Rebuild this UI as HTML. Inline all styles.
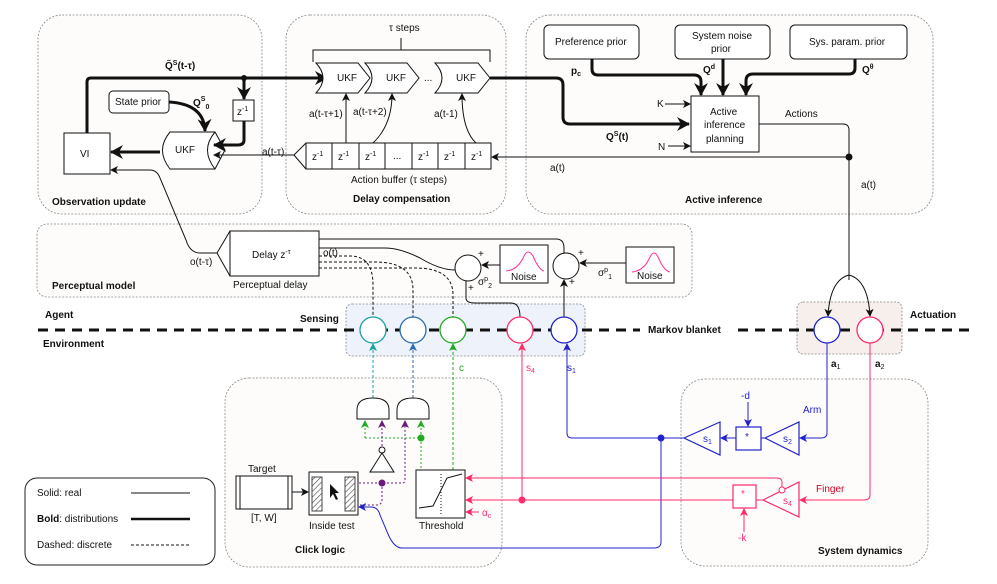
<!DOCTYPE html>
<html><head><meta charset="utf-8"><style>
html,body{margin:0;padding:0;background:#fff;}
svg{display:block;font-family:"Liberation Sans",sans-serif;}
text{font-size:10px;fill:#111;}
.b{font-weight:bold;}
</style></head><body>
<svg width="997" height="584" viewBox="0 0 997 584" xmlns="http://www.w3.org/2000/svg">
<defs>
<pattern id="h" width="4" height="4" patternUnits="userSpaceOnUse" patternTransform="rotate(45)"><rect width="4" height="4" fill="#fff"/><line x1="0" y1="0" x2="0" y2="4" stroke="#444" stroke-width="1.2"/></pattern>
<marker id="a" markerWidth="8" markerHeight="8" refX="7" refY="4" orient="auto" markerUnits="userSpaceOnUse"><path d="M0,0 L8,4 L0,8 L2,4z" fill="#111"/></marker>
<marker id="ab" markerWidth="14" markerHeight="14" refX="12" refY="7" orient="auto" markerUnits="userSpaceOnUse"><path d="M0,0 L13,7 L0,14 L4,7z" fill="#111"/></marker>
<marker id="abl" markerWidth="8" markerHeight="8" refX="7" refY="4" orient="auto" markerUnits="userSpaceOnUse"><path d="M0,0 L8,4 L0,8 L2,4z" fill="#2222cc"/></marker>
<marker id="apk" markerWidth="8" markerHeight="8" refX="7" refY="4" orient="auto" markerUnits="userSpaceOnUse"><path d="M0,0 L8,4 L0,8 L2,4z" fill="#ff2a6a"/></marker>
<marker id="agr" markerWidth="8" markerHeight="8" refX="7" refY="4" orient="auto" markerUnits="userSpaceOnUse"><path d="M0,0 L8,4 L0,8 L2,4z" fill="#22aa22"/></marker>
<marker id="ate" markerWidth="8" markerHeight="8" refX="7" refY="4" orient="auto" markerUnits="userSpaceOnUse"><path d="M0,0 L8,4 L0,8 L2,4z" fill="#1ba0a0"/></marker>
<marker id="abu" markerWidth="8" markerHeight="8" refX="7" refY="4" orient="auto" markerUnits="userSpaceOnUse"><path d="M0,0 L8,4 L0,8 L2,4z" fill="#2b6cb0"/></marker>
<marker id="apu" markerWidth="8" markerHeight="8" refX="7" refY="4" orient="auto" markerUnits="userSpaceOnUse"><path d="M0,0 L8,4 L0,8 L2,4z" fill="#6a1a7a"/></marker>
</defs>
<g fill="#fdfcfb" stroke="#888" stroke-dasharray="2,1.5" stroke-width="0.8">
<rect x="38" y="15" width="224" height="199" rx="24"/>
<rect x="286" y="15" width="220" height="199" rx="24"/>
<rect x="526" y="15" width="407" height="199" rx="24"/>
<rect x="37" y="224" width="655" height="73" rx="10"/>
<rect x="346" y="304" width="239" height="52" rx="6" fill="#eef3fb"/>
<rect x="797" y="302" width="105" height="52" rx="6" fill="#f7efeb"/>
<rect x="225" y="378" width="277" height="189" rx="24"/>
<rect x="681" y="379" width="247" height="187" rx="24"/>
</g>
<text x="52" y="205" class="b">Observation update</text>
<text x="353" y="202" class="b">Delay compensation</text>
<text x="685" y="203" class="b">Active inference</text>
<text x="52" y="289" class="b">Perceptual model</text>
<text x="295" y="553" class="b">Click logic</text>
<text x="818" y="554" class="b">System dynamics</text>
<text x="45" y="318" class="b">Agent</text>
<text x="43" y="347" class="b">Environment</text>
<text x="300" y="322" class="b">Sensing</text>
<text x="648" y="333" class="b">Markov blanket</text>
<text x="910" y="318" class="b">Actuation</text>
<line x1="38" y1="330" x2="640" y2="330" stroke="#111" stroke-width="3" stroke-dasharray="10,7"/>
<line x1="738" y1="330" x2="975" y2="330" stroke="#111" stroke-width="3" stroke-dasharray="10,7"/>
<!-- legend -->
<rect x="25" y="478" width="190" height="87" rx="12" fill="#fff" stroke="#222"/>
<text x="37" y="496">Solid: real</text><line x1="131" y1="493" x2="190" y2="493" stroke="#111"/>
<text x="37" y="522"><tspan class="b">Bold</tspan>: distributions</text><line x1="131" y1="519" x2="190" y2="519" stroke="#111" stroke-width="2.5"/>
<text x="37" y="548">Dashed: discrete</text><line x1="131" y1="545" x2="190" y2="545" stroke="#111" stroke-dasharray="3,2"/>
<!-- observation update -->
<rect x="64" y="133" width="46" height="41" fill="#fff" stroke="#111"/><text x="80" y="157">VI</text>
<rect x="109" y="91" width="60" height="22" rx="4" fill="#fff" stroke="#111"/><text x="115" y="105">State prior</text>
<path d="M170,132 L215,132 L225,150 L215,169 L170,169 Q155,150 170,132 Z" fill="#fff" stroke="#111"/>
<path d="M215,132 Q200,150 215,169" fill="none" stroke="#111"/>
<text x="175" y="153">UKF</text>
<rect x="233" y="100" width="21" height="21" fill="#fff" stroke="#111"/><text x="237" y="115">z<tspan dy="-4" font-size="7">-1</tspan></text>
<path d="M87,133 V82 Q87,78 91,78 H327" fill="none" stroke="#111" stroke-width="3" marker-end="url(#ab)"/>
<circle cx="244" cy="78" r="3" fill="#111"/>
<path d="M244,78 V99" stroke="#111" stroke-width="3" marker-end="url(#ab)"/>
<path d="M244,121 V140 Q244,145 238,145 H214" fill="none" stroke="#111" stroke-width="3" marker-end="url(#ab)"/>
<path d="M169,102 Q204,104 205,131" fill="none" stroke="#111" stroke-width="3" marker-end="url(#ab)"/>
<path d="M160,152 H111" stroke="#111" stroke-width="3" marker-end="url(#ab)"/>
<text x="165" y="69" class="b">Q̃<tspan dy="-4" font-size="7">S</tspan><tspan dy="4">(t-τ)</tspan></text>
<text x="193" y="106" class="b">Q<tspan dy="-5" font-size="7">S</tspan><tspan dy="8" font-size="7">0</tspan></text>
<!-- delay compensation -->
<path d="M313,62 V50 H490 V62" fill="none" stroke="#111"/><line x1="401" y1="38" x2="401" y2="50" stroke="#111"/>
<text x="389" y="31">τ steps</text>
<g fill="#fff" stroke="#111">
<path d="M316,63 H358 L370,78 L358,93 H316 Q330,78 316,63Z"/>
<path d="M365,63 H407 L419,78 L407,93 H365 Q379,78 365,63Z"/>
<path d="M435,63 H478 L490,78 L478,93 H435 Q449,78 435,63Z"/>
</g>
<text x="337" y="81">UKF</text><text x="386" y="81">UKF</text><text x="456" y="81">UKF</text><text x="424" y="81" fill="#666">...</text>
<path d="M306,143 L294,155 L306,169" fill="#fff" stroke="#111"/>
<rect x="306" y="143" width="185" height="26" fill="#fff" stroke="#111"/>
<g stroke="#111"><line x1="332" y1="143" x2="332" y2="169"/><line x1="359" y1="143" x2="359" y2="169"/><line x1="385" y1="143" x2="385" y2="169"/><line x1="412" y1="143" x2="412" y2="169"/><line x1="438" y1="143" x2="438" y2="169"/><line x1="465" y1="143" x2="465" y2="169"/></g>
<text x="312" y="160">z<tspan dy="-4" font-size="7">-1</tspan></text><text x="338" y="160">z<tspan dy="-4" font-size="7">-1</tspan></text><text x="365" y="160">z<tspan dy="-4" font-size="7">-1</tspan></text><text x="393" y="159">...</text><text x="418" y="160">z<tspan dy="-4" font-size="7">-1</tspan></text><text x="444" y="160">z<tspan dy="-4" font-size="7">-1</tspan></text><text x="471" y="160">z<tspan dy="-4" font-size="7">-1</tspan></text>
<text x="351" y="183">Action buffer (τ steps)</text>
<path d="M346,143 V94" stroke="#111" marker-end="url(#a)"/>
<path d="M373,143 Q392,125 392,94" fill="none" stroke="#111" marker-end="url(#a)"/>
<path d="M476,143 Q462,130 462,94" fill="none" stroke="#111" marker-end="url(#a)"/>
<text x="309" y="117">a(t-τ+1)</text><text x="353" y="115">a(t-τ+2)</text><text x="434" y="117">a(t-1)</text>
<path d="M294,155 H214" stroke="#111" marker-end="url(#a)"/>
<text x="262" y="155">a(t-τ)</text>
<!-- active inference -->
<path d="M490,78 H556 Q563,78 563,85 V117 Q563,124 570,124 H689" fill="none" stroke="#111" stroke-width="3" marker-end="url(#ab)"/>
<text x="606" y="140" class="b">Q<tspan dy="-4" font-size="7">S</tspan><tspan dy="4">(t)</tspan></text>
<rect x="544" y="25" width="95" height="34" rx="5" fill="#fff" stroke="#111"/><text x="555" y="45">Preference prior</text>
<rect x="675" y="25" width="95" height="34" rx="5" fill="#fff" stroke="#111"/><text x="692" y="39">System noise</text><text x="711" y="52">prior</text>
<rect x="790" y="25" width="117" height="34" rx="5" fill="#fff" stroke="#111"/><text x="809" y="45">Sys. param. prior</text>
<rect x="691" y="96" width="68" height="56" fill="#fff" stroke="#111"/>
<text x="710" y="115">Active</text><text x="704" y="128">inference</text><text x="706" y="142">planning</text>
<path d="M592,59 V69 Q592,75 598,75 H694 Q701,75 701,82 V95" fill="none" stroke="#111" stroke-width="3" marker-end="url(#ab)"/>
<path d="M723,59 V95" stroke="#111" stroke-width="3" marker-end="url(#ab)"/>
<path d="M855,59 V68 Q855,74 849,74 H753 Q746,74 746,81 V95" fill="none" stroke="#111" stroke-width="3" marker-end="url(#ab)"/>
<text x="571" y="74" class="b">p<tspan dy="2" font-size="7">c</tspan></text>
<text x="703" y="73" class="b">Q<tspan dy="-4" font-size="7">d</tspan></text>
<text x="862" y="73" class="b">Q<tspan dy="-4" font-size="7">θ</tspan></text>
<text x="657" y="107">K</text><path d="M665,104 H690" stroke="#111" marker-end="url(#a)"/>
<text x="658" y="150">N</text><path d="M668,146 H690" stroke="#111" marker-end="url(#a)"/>
<text x="785" y="117">Actions</text>
<path d="M759,124 H843 Q849,124 849,130 V280" fill="none" stroke="#111"/>
<circle cx="849" cy="157" r="3.5" fill="#111"/>
<path d="M849,157 H492" stroke="#111" marker-end="url(#a)"/>
<text x="550" y="171">a(t)</text><text x="861" y="188">a(t)</text>
<path d="M849,275 Q830,280 828,316" fill="none" stroke="#111" marker-end="url(#a)"/>
<path d="M849,275 Q868,280 870,316" fill="none" stroke="#111" marker-end="url(#a)"/>
<!-- perceptual model -->
<path d="M230,231 L217,253 L230,276" fill="#fff" stroke="#111"/>
<rect x="230" y="231" width="89" height="45" fill="#fff" stroke="#111"/>
<text x="252" y="258">Delay z<tspan dy="-4" font-size="7">-τ</tspan></text>
<text x="233" y="288">Perceptual delay</text>
<text x="190" y="265">o(t-τ)</text>
<path d="M217,253 H200 Q190,253 186,240 L160,178 Q157,170 150,170 H111" fill="none" stroke="#111" marker-end="url(#a)"/>
<path d="M319,239 H556 Q564,239 564,248 V253" fill="none" stroke="#111"/>
<path d="M319,248 H385 Q400,248 420,258 Q440,270 455,270" fill="none" stroke="#111"/>
<text x="323" y="256">o(t)</text>
<g fill="none" stroke="#111" stroke-dasharray="3,2">
<path d="M319,256 H350 Q373,256 373,285 V317"/>
<path d="M319,262 H375 Q413,262 413,290 V317"/>
<path d="M319,268 H415 Q453,268 453,295 V317"/>
</g>
<circle cx="468" cy="268" r="13" fill="#fff" stroke="#111"/>
<circle cx="566" cy="266" r="13" fill="#fff" stroke="#111"/>
<rect x="500" y="245" width="48" height="38" fill="#fff" stroke="#111"/>
<rect x="626" y="247" width="48" height="36" fill="#fff" stroke="#111"/>
<path d="M506,271 Q518,270 524,256 Q528,248 533,256 Q539,270 544,271" fill="none" stroke="#ff3399"/>
<path d="M632,272 Q644,271 650,257 Q654,249 658,257 Q664,271 670,272" fill="none" stroke="#ff3399"/>
<text x="511" y="280">Noise</text><text x="637" y="279">Noise</text>
<path d="M500,265 H482" stroke="#111" marker-end="url(#a)"/>
<path d="M626,263 H580" stroke="#111" marker-end="url(#a)"/>
<text x="478" y="285">σ<tspan dy="-4" font-size="7">p</tspan><tspan dy="7" font-size="7">2</tspan></text>
<text x="598" y="276">σ<tspan dy="-4" font-size="7">p</tspan><tspan dy="7" font-size="7">1</tspan></text>
<text x="478" y="257">+</text><text x="468" y="291">+</text><text x="578" y="256">+</text><text x="569" y="285">+</text>
<path d="M466,281 V298 Q466,303 475,303 H511 Q520,303 520,317" fill="none" stroke="#111"/>
<path d="M564,317 V280" stroke="#111" marker-end="url(#a)"/>
<!-- sensing circles -->
<g fill="#fff" stroke-width="1.3">
<circle cx="373" cy="330" r="13" stroke="#1ba0a0"/>
<circle cx="413" cy="330" r="13" stroke="#2b6cb0"/>
<circle cx="453" cy="330" r="13" stroke="#22aa22"/>
<circle cx="520" cy="330" r="13" stroke="#ff2a6a"/>
<circle cx="564" cy="330" r="13" stroke="#2222cc"/>
<circle cx="827" cy="330" r="13" stroke="#2222cc"/>
<circle cx="870" cy="330" r="13" stroke="#ff2a6a"/>
</g>
<text x="831" y="367" class="b">a<tspan dy="2" font-size="7" font-weight="normal">1</tspan></text>
<text x="875" y="367" class="b">a<tspan dy="2" font-size="7" font-weight="normal">2</tspan></text>
<!-- click logic -->
<path d="M373,398 V344" stroke="#1ba0a0" stroke-dasharray="3,2" marker-end="url(#ate)"/>
<path d="M413,398 V344" stroke="#2b6cb0" stroke-dasharray="3,2" marker-end="url(#abu)"/>
<path d="M453,470 V344" stroke="#22aa22" stroke-dasharray="3,2" marker-end="url(#agr)"/>
<text x="459" y="371" style="fill:#22aa22">c</text>
<path d="M357,419 V410 Q357,398 373,398 Q389,398 389,410 V419 Z" fill="#fff" stroke="#111"/>
<path d="M397,419 V410 Q397,398 413,398 Q429,398 429,410 V419 Z" fill="#fff" stroke="#111"/>
<path d="M365,438 V421" stroke="#22aa22" stroke-dasharray="2,2" marker-end="url(#agr)"/>
<path d="M365,438 H421 M421,438 V421" fill="none" stroke="#22aa22" stroke-dasharray="2,2" marker-end="url(#agr)"/>
<path d="M421,438 V470" stroke="#22aa22" stroke-dasharray="2,2"/>
<circle cx="421" cy="438" r="3.5" fill="#22aa22"/>
<path d="M382,446 V421" stroke="#6a1a7a" stroke-dasharray="2,2" marker-end="url(#apu)"/>
<path d="M359,483 H403 Q405,483 405,478 V421" fill="none" stroke="#6a1a7a" stroke-dasharray="2,2" marker-end="url(#apu)"/>
<path d="M382,483 V500 Q382,505 376,505 H360" fill="none" stroke="#6a1a7a" stroke-dasharray="2,2"/>
<circle cx="382" cy="483" r="3.5" fill="#6a1a7a"/>
<path d="M370,472 L382,453 L394,472 Z" fill="#fff" stroke="#111"/>
<circle cx="382" cy="450" r="3" fill="#fff" stroke="#111"/>
<rect x="236" y="476" width="56" height="33" fill="#fff" stroke="#111"/>
<line x1="240" y1="476" x2="240" y2="509" stroke="#111"/><line x1="288" y1="476" x2="288" y2="509" stroke="#111"/>
<text x="248" y="472">Target</text><text x="251" y="521">[T, W]</text>
<path d="M292,492 H308" stroke="#111" marker-end="url(#a)"/>
<rect x="309" y="472" width="49" height="43" fill="#fff" stroke="#111"/>
<rect x="312" y="477" width="10" height="34" fill="url(#h)" stroke="#444"/>
<rect x="345" y="477" width="10" height="34" fill="url(#h)" stroke="#444"/>
<path d="M330,484 L330,498 L333,494 L336,500 L338,499 L335,493 L339,493 Z" fill="#111"/>
<text x="309" y="529">Inside test</text>
<rect x="416" y="470" width="49" height="48" fill="#fff" stroke="#111"/>
<path d="M419,508 L433,506 L447,478 L462,474" fill="none" stroke="#111"/>
<line x1="441" y1="474" x2="441" y2="514" stroke="#111" stroke-dasharray="1,2"/>
<text x="419" y="529">Threshold</text>
<path d="M479,512 H466" stroke="#ff2a6a" marker-end="url(#apk)"/>
<text x="482" y="516" style="fill:#ff2a6a">α<tspan dy="2" font-size="7">c</tspan></text>
<!-- blue s1 path -->
<path d="M684,438 H572 Q567,438 567,433 V344" fill="none" stroke="#2222cc" marker-end="url(#abl)"/>
<text x="567" y="371" style="fill:#2222cc">s<tspan dy="2" font-size="7">1</tspan></text>
<circle cx="661" cy="438" r="3.5" fill="#2222cc"/>
<path d="M661,438 V542 Q661,548 654,548 H402 Q394,548 388,534 L380,515 Q378,507 371,507 H359" fill="none" stroke="#2222cc" marker-end="url(#abl)"/>
<!-- pink paths -->
<path d="M763,500 H466" stroke="#ff2a6a" marker-end="url(#apk)"/>
<path d="M782,489 V482 Q782,478 777,478 H466" fill="none" stroke="#ff2a6a" marker-end="url(#apk)"/>
<circle cx="522" cy="500" r="3.5" fill="#ff2a6a"/>
<path d="M522,500 V344" stroke="#ff2a6a" marker-end="url(#apk)"/>
<text x="526" y="371" style="fill:#ff2a6a">s<tspan dy="2" font-size="7">4</tspan></text>
<!-- system dynamics -->
<path d="M827,343 V433 Q827,438 821,438 H800" fill="none" stroke="#2222cc" marker-end="url(#abl)"/>
<path d="M870,343 V495 Q870,500 864,500 H800" fill="none" stroke="#ff2a6a" marker-end="url(#apk)"/>
<path d="M684,438 L720,422 L720,455 Z" fill="#fff" stroke="#2222cc" stroke-width="1.2"/>
<text x="703" y="442" style="fill:#2222cc">s<tspan dy="2" font-size="7">1</tspan></text>
<path d="M736,438 H721" stroke="#2222cc" marker-end="url(#abl)"/>
<rect x="736" y="427" width="25" height="23" fill="#fff" stroke="#2222cc" stroke-width="1.2"/><text x="745" y="440" style="fill:#2222cc" font-size="8">*</text>
<path d="M765,438 H761" stroke="#2222cc"/>
<path d="M765,438 L799,422 L799,455 Z" fill="#fff" stroke="#2222cc" stroke-width="1.2"/>
<text x="783" y="442" style="fill:#2222cc">s<tspan dy="2" font-size="7">2</tspan></text>
<text x="741" y="399" style="fill:#2222cc">-d</text><path d="M748,402 V426" stroke="#2222cc" marker-end="url(#abl)"/>
<text x="803" y="413" style="fill:#2222cc">Arm</text>
<rect x="733" y="485" width="23" height="23" fill="#fff" stroke="#ff2a6a" stroke-width="1.2"/><text x="741" y="497" style="fill:#ff2a6a" font-size="8">*</text>
<path d="M763,500 L799,482 L799,517 Z" fill="#fff" stroke="#ff2a6a" stroke-width="1.2"/>
<circle cx="782" cy="490" r="3" fill="#fff" stroke="#ff2a6a"/>
<text x="783" y="504" style="fill:#ff2a6a">s<tspan dy="2" font-size="7">4</tspan></text>
<text x="738" y="541" style="fill:#ff2a6a">-k</text><path d="M744,532 V509" stroke="#ff2a6a" marker-end="url(#apk)"/>
<text x="816" y="492" style="fill:#cc0022">Finger</text>
</svg>
</body></html>
